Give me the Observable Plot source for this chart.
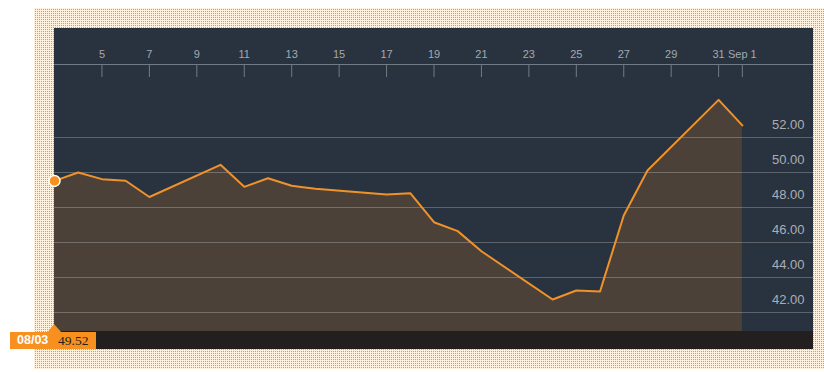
<!DOCTYPE html>
<html>
<head>
<meta charset="utf-8">
<script src="https://cdn.jsdelivr.net/npm/d3@7"></script>
<script src="https://cdn.jsdelivr.net/npm/@observablehq/plot@0.6"></script>
<style>
  html, body { margin: 0; padding: 0; background: #fff; width: 824px; height: 373px; overflow: hidden; }
  #frame { position: absolute; left: 34px; top: 8px; width: 790px; height: 361px; display: block; }
  #chart { position: absolute; left: 54px; top: 28px; width: 759px; height: 303px; }
  #chart svg { overflow: visible; display: block; }
  #bar { position: absolute; left: 54px; top: 331px; width: 759px; height: 18px; background: #221f1e; }
  #tag {
    position: absolute; left: 10px; top: 332px; width: 86px; height: 17px; background: #f7901e;
    font-size: 12px; line-height: 17px; white-space: nowrap;
  }
  #tag .d { position: absolute; left: 7px; top: 0; color: #fff; font-weight: bold; font-family: Arial, "Liberation Sans", sans-serif; font-size: 12.5px; }
  #tag .v { position: absolute; left: 48px; top: 0; color: #222; font-family: "Liberation Serif", "Times New Roman", serif; font-size: 13.5px; }
  #tri {
    position: absolute; left: 47px; top: 324px; width: 0; height: 0;
    border-left: 7px solid transparent; border-right: 8px solid transparent; border-bottom: 9px solid #f7901e;
  }
</style>
</head>
<body>
<canvas id="frame" width="790" height="361"></canvas>
<div id="chart"></div>
<div id="bar"></div>
<div id="tri"></div>
<div id="tag"><span class="d">08/03</span><span class="v">49.52</span></div>
<script>
const dates = ["2015-08-03","2015-08-04","2015-08-05","2015-08-06","2015-08-07",
  "2015-08-10","2015-08-11","2015-08-12","2015-08-13","2015-08-14",
  "2015-08-17","2015-08-18","2015-08-19","2015-08-20","2015-08-21",
  "2015-08-24","2015-08-25","2015-08-26","2015-08-27","2015-08-28",
  "2015-08-31","2015-09-01"];
const prices = [49.52, 50.00, 49.62, 49.53, 48.60,
  50.44, 49.18, 49.67, 49.24, 49.07,
  48.74, 48.82, 47.16, 46.65, 45.50,
  42.74, 43.26, 43.20, 47.54, 50.11,
  54.15, 52.69];
const tickDates = ["2015-08-05","2015-08-07","2015-08-09","2015-08-11","2015-08-13",
  "2015-08-15","2015-08-17","2015-08-19","2015-08-21","2015-08-23","2015-08-25",
  "2015-08-27","2015-08-29","2015-08-31","2015-09-01"];
const tickLabels = ["5","7","9","11","13","15","17","19","21","23","25","27","29","31","Sep 1"];
const gridValues = [42, 44, 46, 48, 50, 52];

// dotted frame
(function () {
  const c = document.getElementById("frame");
  const ctx = c.getContext("2d");
  ctx.fillStyle = "#fdf0dc";
  ctx.fillRect(0, 0, c.width, c.height);
  ctx.fillStyle = "#e39a48";
  for (let y = 1; y < c.height; y += 2) {
    for (let x = 1; x < c.width; x += 2) ctx.fillRect(x, y, 1, 1);
  }
})();

const yMin = 40.914, yMax = 56.171;
const toDate = s => new Date(s + "T00:00:00Z");
const data = dates.map((d, i) => ({date: toDate(d), price: prices[i]}));
const ticks = tickDates.map((d, i) => ({date: toDate(d), label: tickLabels[i]}));

const chart = Plot.plot({
  width: 759, height: 303,
  marginTop: 36, marginBottom: 0, marginLeft: 0, marginRight: 0,
  style: {background: "#29333f", overflow: "visible", fontFamily: "Arial, 'Liberation Sans', sans-serif"},
  x: {type: "utc", domain: [toDate("2015-08-03"), toDate("2015-09-04")], axis: null},
  y: {domain: [yMin, yMax], axis: null},
  marks: [
    Plot.areaY(data, {x: "date", y1: yMin, y2: "price", fill: "#4b4139"}),
    Plot.ruleY(gridValues, {stroke: "#ffffff", strokeOpacity: 0.24, strokeWidth: 1.2}),
    Plot.ruleY([yMax], {stroke: "#727a83", strokeWidth: 1.2}),
    Plot.ruleX(ticks, {x: "date", y1: yMax, y2: yMax - 13 / 17.5, stroke: "#727a83", strokeWidth: 1}),
    Plot.text(ticks, {x: "date", text: "label", frameAnchor: "top", dy: -14, fill: "#a3a9b0", fontSize: 11}),
    Plot.text(gridValues, {y: d => d, text: d => d.toFixed(2), frameAnchor: "right", textAnchor: "end", dx: -9, dy: -12.5, fill: "#a9aeb4", fontSize: 13}),
    Plot.lineY(data, {x: "date", y: "price", stroke: "#f0922a", strokeWidth: 2}),
    Plot.dot(data.slice(0, 1), {x: "date", y: "price", r: 5.5, fill: "#f7901e", stroke: "#ffffff", strokeWidth: 1.5})
  ]
});
document.getElementById("chart").appendChild(chart);
</script>
</body>
</html>
